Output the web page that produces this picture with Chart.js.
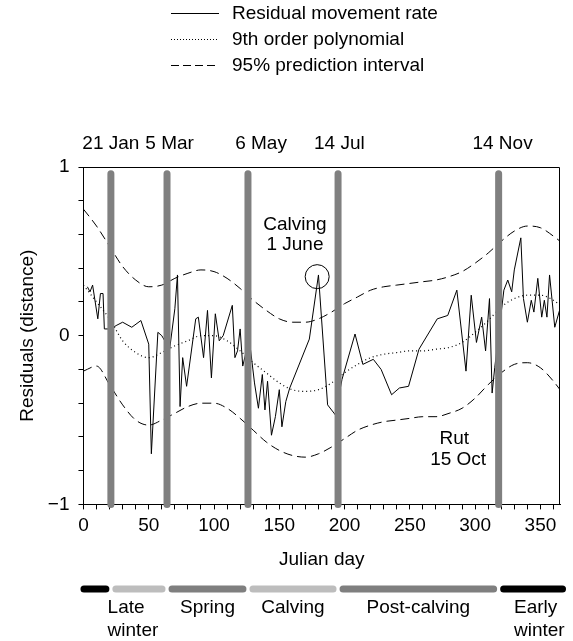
<!DOCTYPE html>
<html>
<head>
<meta charset="utf-8">
<script src="https://cdn.jsdelivr.net/npm/chart.js@4.4.0/dist/chart.umd.min.js"></script>
<style>
  html, body { margin: 0; padding: 0; background: #fff; }
  canvas { display: block; }
</style>
</head>
<body>
<canvas id="residualChart" width="573" height="641"></canvas>
<script>
// residual movement rate
const residualDays = [3, 5, 7, 11, 13, 15, 16, 21, 25, 30, 37, 44, 50, 52, 57, 60,
  66, 70, 72, 74, 76, 79, 86, 88, 92, 95, 98, 101, 104, 107, 114, 116, 118, 120, 122,
  127, 131, 134, 137, 139, 141, 144, 147, 150, 152, 155, 158, 173, 180, 187, 193,
  198, 208, 214, 222, 228, 236, 242, 249, 257, 264, 271, 279, 286, 293, 297, 301,
  305, 308, 311, 313, 315, 322, 325, 328, 330, 335, 337, 340, 343, 345, 348, 351,
  353, 355, 357, 361, 365];
const residualValues = [0.29, 0.26, 0.30, 0.10, 0.25, 0.25, 0.04, 0.04, 0.06, 0.08, 0.05, 0.09, -0.05, -0.70, 0.02, 0.00,
  -0.08, 0.16, 0.36, -0.42, -0.13, -0.30, 0.10, 0.11, -0.13, 0.15, -0.25, 0.13, -0.03, 0.00, 0.18, -0.13, -0.09, 0.04, -0.18,
  -0.02, -0.28, -0.43, -0.23, -0.44, -0.27, -0.59, -0.48, -0.32, -0.54, -0.39, -0.31, -0.02, 0.36, -0.41, -0.47,
  -0.26, 0.01, -0.17, -0.14, -0.20, -0.35, -0.31, -0.30, -0.08, 0.01, 0.10, 0.12, 0.27, -0.21, 0.24, -0.04,
  0.11, -0.09, 0.22, -0.34, -0.19, 0.27, 0.33, 0.26, 0.39, 0.58, 0.22, 0.08, 0.21, 0.14, 0.34, 0.11,
  0.21, 0.11, 0.36, 0.05, 0.16];

// fitted curves, read every 10 days
const fitDays = [0, 10, 20, 30, 40, 50, 60, 70, 80, 90, 100, 110, 120, 130, 140, 150, 160, 170, 180,
  190, 200, 210, 220, 230, 240, 250, 260, 270, 280, 290, 300, 310, 320, 330, 340, 350, 360, 365];
const polyValues = [0.30, 0.20, 0.10, -0.03, -0.10, -0.13, -0.10, -0.06, -0.03, 0.00, 0.00, -0.03, -0.09, -0.16, -0.22, -0.28, -0.32, -0.33, -0.32,
  -0.28, -0.22, -0.17, -0.13, -0.11, -0.10, -0.09, -0.09, -0.08, -0.07, -0.04, 0.02, 0.09, 0.17, 0.22, 0.24, 0.24, 0.21, 0.18];
const upperValues = [0.75, 0.65, 0.53, 0.41, 0.33, 0.29, 0.30, 0.34, 0.37, 0.39, 0.38, 0.34, 0.28, 0.21, 0.15, 0.10, 0.08, 0.08, 0.10,
  0.14, 0.19, 0.23, 0.27, 0.29, 0.30, 0.31, 0.32, 0.33, 0.35, 0.38, 0.43, 0.49, 0.56, 0.62, 0.65, 0.64, 0.59, 0.56];
const lowerValues = [-0.21, -0.18, -0.29, -0.41, -0.50, -0.53, -0.50, -0.46, -0.42, -0.40, -0.40, -0.43, -0.49, -0.56, -0.63, -0.68, -0.71, -0.72, -0.70,
  -0.66, -0.61, -0.56, -0.53, -0.51, -0.50, -0.49, -0.48, -0.48, -0.46, -0.43, -0.37, -0.29, -0.22, -0.17, -0.16, -0.19, -0.27, -0.32];

// key dates (grey bars) and their labels
const eventDays = [21, 64, 126, 195, 318];
const eventLabels = ['21 Jan', '5 Mar', '6 May', '14 Jul', '14 Nov'];
const eventLabelDays = [21, 66, 136, 196, 321];

// seasons shown under the axis
const seasonStart = [0, 21, 64, 126, 195, 318];
const seasonEnd = [21, 64, 126, 195, 318, 365];
const seasonNames = ['', 'Late\nwinter', 'Spring', 'Calving', 'Post-calving', 'Early\nwinter'];
const seasonShades = ['#000000', '#bdbdbd', '#7f7f7f', '#bdbdbd', '#7f7f7f', '#000000'];

const calvingPeak = [{ x: 179, y: 0.35 }];

const FONT = '"Liberation Sans", Arial, Helvetica, sans-serif';
const FS = 19;
Chart.defaults.font.family = FONT;
Chart.defaults.font.size = FS;
Chart.defaults.color = '#000';

const pts = (xs, ys) => xs.map((d, i) => ({ x: d, y: ys[i] }));

// each grey bar is a 2 point segment, null breaks them apart
const barPoints = eventDays.flatMap(d => [{ x: d, y: -1.0 }, { x: d, y: 0.96 }, { x: d, y: null }]);

const decor = {
  id: 'decor',
  beforeDatasetsDraw(chart) {
    const { ctx, chartArea: a } = chart;
    ctx.save();
    ctx.strokeStyle = '#000';
    ctx.lineWidth = 1;
    ctx.beginPath();
    ctx.moveTo(Math.round(a.left) + 0.5, Math.round(a.top) + 0.5);
    ctx.lineTo(Math.round(a.right) - 0.5, Math.round(a.top) + 0.5);
    ctx.lineTo(Math.round(a.right) - 0.5, Math.round(a.bottom));
    ctx.stroke();
    ctx.restore();
  },
  afterDraw(chart) {
    const { ctx, chartArea: a, scales: { x, y } } = chart;
    ctx.save();
    ctx.font = FS + 'px ' + FONT;
    ctx.fillStyle = '#000';
    ctx.strokeStyle = '#000';
    ctx.textBaseline = 'middle';

    // legend
    const rows = [
      ['Residual movement rate', []],
      ['9th order polynomial', [1, 2]],
      ['95% prediction interval', [8, 4]]
    ];
    rows.forEach((r, i) => {
      const ly = 13 + i * 26;
      ctx.setLineDash(r[1]);
      ctx.lineWidth = 1;
      ctx.beginPath();
      ctx.moveTo(171, ly + 0.5);
      ctx.lineTo(219, ly + 0.5);
      ctx.stroke();
      ctx.setLineDash([]);
      ctx.textAlign = 'left';
      ctx.fillText(r[0], 232, ly + 1);
    });

    // dates over the bars
    ctx.textAlign = 'center';
    eventLabels.forEach((t, i) => {
      ctx.fillText(t, x.getPixelForValue(eventLabelDays[i]), a.top - 23);
    });

    // notes inside the plot
    ctx.fillText('Calving', x.getPixelForValue(162), y.getPixelForValue(0.66));
    ctx.fillText('1 June', x.getPixelForValue(162), y.getPixelForValue(0.54));
    ctx.fillText('Rut', x.getPixelForValue(284), y.getPixelForValue(-0.61));
    ctx.fillText('15 Oct', x.getPixelForValue(287), y.getPixelForValue(-0.735));

    // season strip
    const sy = 589;
    const nudge = [0, -6, 0, 0, 0, 10];
    ctx.lineWidth = 7;
    ctx.lineCap = 'round';
    seasonStart.forEach((s, i) => {
      const x0 = x.getPixelForValue(s) + (i === 0 ? 0.5 : 5);
      const x1 = x.getPixelForValue(seasonEnd[i]) - (i === seasonStart.length - 1 ? -2.5 : 5);
      ctx.strokeStyle = seasonShades[i];
      ctx.beginPath();
      ctx.moveTo(x0, sy);
      ctx.lineTo(x1, sy);
      ctx.stroke();
      if (!seasonNames[i]) return;
      const lines = seasonNames[i].split('\n');
      const cx = (x.getPixelForValue(s) + x.getPixelForValue(seasonEnd[i])) / 2 + nudge[i];
      const w = Math.max(...lines.map(l => ctx.measureText(l).width));
      ctx.textAlign = 'left';
      lines.forEach((l, k) => ctx.fillText(l, cx - w / 2, 608 + k * 23));
    });
    ctx.restore();
  }
};

new Chart(document.getElementById('residualChart'), {
  type: 'line',
  data: {
    datasets: [
      {
        label: 'key dates',
        data: barPoints,
        borderColor: '#808080',
        borderWidth: 7,
        borderCapStyle: 'round',
        spanGaps: false,
        pointRadius: 0,
        clip: false,
        order: 0
      },
      {
        label: 'Residual movement rate',
        data: pts(residualDays, residualValues),
        borderColor: '#000',
        borderWidth: 1,
        pointRadius: 0,
        tension: 0,
        order: 1
      },
      {
        label: '9th order polynomial',
        data: pts(fitDays, polyValues),
        borderColor: '#000',
        borderWidth: 1.2,
        borderDash: [1, 3],
        cubicInterpolationMode: 'monotone',
        pointRadius: 0,
        order: 2
      },
      {
        label: '95% prediction interval',
        data: pts(fitDays, upperValues),
        borderColor: '#000',
        borderWidth: 1,
        borderDash: [9, 5],
        cubicInterpolationMode: 'monotone',
        pointRadius: 0,
        order: 3
      },
      {
        label: '95% prediction interval (lower)',
        data: pts(fitDays, lowerValues),
        borderColor: '#000',
        borderWidth: 1,
        borderDash: [9, 5],
        cubicInterpolationMode: 'monotone',
        pointRadius: 0,
        order: 3
      },
      {
        label: 'calving peak',
        data: calvingPeak,
        showLine: false,
        pointRadius: 12,
        pointBorderWidth: 1,
        pointBorderColor: '#000',
        pointBackgroundColor: 'rgba(0,0,0,0)',
        order: 1
      }
    ]
  },
  options: {
    responsive: false,
    animation: false,
    events: [],
    layout: { padding: { top: 167, right: 6, bottom: 68, left: 12 } },
    plugins: { legend: { display: false }, tooltip: { enabled: false } },
    scales: {
      x: {
        type: 'linear',
        min: 0,
        max: 365,
        ticks: {
          stepSize: 10,
          includeBounds: false,
          autoSkip: false,
          maxRotation: 0,
          minRotation: 0,
          padding: 5,
          callback: v => (v % 50 === 0 ? String(v) : '')
        },
        grid: { drawOnChartArea: false, tickLength: 5, color: '#000' },
        border: { color: '#000', width: 1 },
        title: { display: true, text: 'Julian day', padding: { top: 6, bottom: 2 } }
      },
      y: {
        min: -1,
        max: 1,
        ticks: {
          stepSize: 0.2,
          autoSkip: false,
          padding: 9,
          callback: v => {
            const r = Math.round(v);
            if (Math.abs(v - r) > 1e-6) return '';
            return r < 0 ? '\u2212' + Math.abs(r) : String(r);
          }
        },
        grid: { drawOnChartArea: false, tickLength: 5, color: '#000' },
        border: { color: '#000', width: 1 },
        title: { display: true, text: 'Residuals (distance)', padding: { top: 4, bottom: 0 } }
      }
    }
  },
  plugins: [decor]
});
</script>
</body>
</html>
